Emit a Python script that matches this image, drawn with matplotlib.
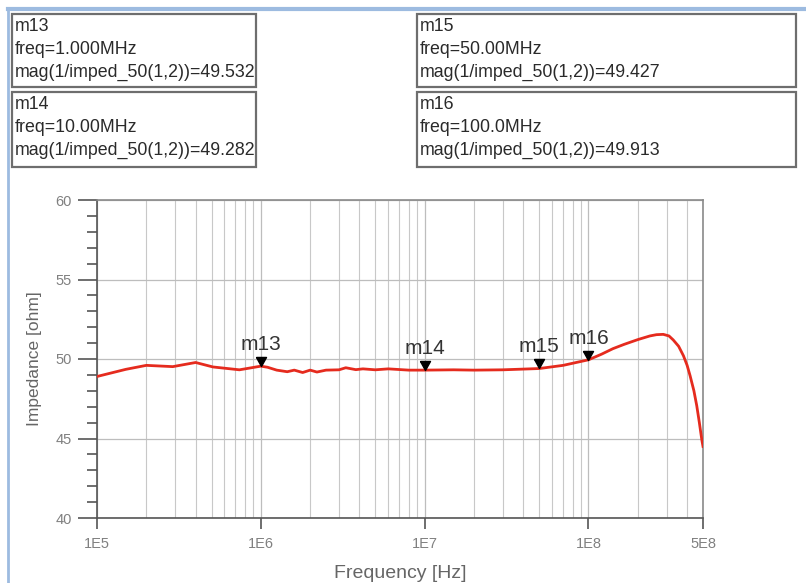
import numpy as np
import matplotlib.pyplot as plt
from matplotlib.patches import Rectangle
from matplotlib.lines import Line2D
from matplotlib.path import Path

plt.rcParams['font.family'] = ['Liberation Sans', 'DejaVu Sans']

# trace: frequency [Hz] and |Z| [ohm]
freq = [1e5, 1.5e5, 2e5, 2.9e5, 4e5, 5.1e5, 7.4e5, 1e6, 1.1e6, 1.25e6, 1.45e6,
        1.6e6, 1.8e6, 2e6, 2.2e6, 2.5e6, 3e6, 3.3e6, 3.8e6, 4.2e6, 5e6, 6e6,
        8e6, 1e7, 1.5e7, 2e7, 3e7, 5e7, 7e7, 1e8, 1.2e8, 1.41e8, 1.65e8, 2e8,
        2.37e8, 2.6e8, 2.86e8, 3.1e8, 3.29e8, 3.55e8, 3.8e8, 4e8, 4.17e8,
        4.4e8, 4.58e8, 4.75e8, 4.92e8, 5e8]
imped = [48.9, 49.35, 49.6, 49.52, 49.78, 49.5, 49.32, 49.55, 49.48, 49.3, 49.2,
         49.3, 49.15, 49.3, 49.18, 49.3, 49.32, 49.45, 49.33, 49.38, 49.32, 49.38,
         49.3, 49.3, 49.32, 49.3, 49.32, 49.4, 49.6, 49.95, 50.3, 50.65, 50.92, 51.22,
         51.45, 51.53, 51.55, 51.45, 51.2, 50.8, 50.2, 49.6, 48.95,
         48.0, 47.06, 46.0, 44.9, 44.5]

marker_names = ['m13', 'm14', 'm15', 'm16']
marker_freq = [1e6, 1e7, 5e7, 1e8]
marker_val = [49.532, 49.282, 49.427, 49.913]
marker_freq_txt = ['1.000MHz', '10.00MHz', '50.00MHz', '100.0MHz']

xtick_vals = [1e5, 1e6, 1e7, 1e8, 5e8]
xtick_labels = ['1E5', '1E6', '1E7', '1E8', '5E8']
ytick_vals = [40, 45, 50, 55, 60]

W, H = 806, 583
fig = plt.figure(figsize=(W / 100, H / 100), dpi=100)

def fx(px):
    return px / W

def fy(py):
    return 1 - py / H

# window frame (light blue top and left edges)
fig.add_artist(Line2D([fx(8), 1], [fy(9), fy(9)], color='#9dbbe0', lw=3))
fig.add_artist(Line2D([fx(8), fx(8)], [0, fy(9)], color='#9dbbe0', lw=2))

# marker readout boxes
boxes = [(12, 14, 256, 87), (417, 14, 796, 87), (12, 92, 256, 167), (417, 92, 796, 167)]
box_order = [0, 2, 1, 3]
for k, bi in enumerate(box_order):
    x0, y0, x1, y1 = boxes[bi]
    fig.add_artist(Rectangle((fx(x0), fy(y1)), fx(x1 - x0), (y1 - y0) / H,
                             fill=False, edgecolor='#6e6e6e', lw=1.6))
    lines = [marker_names[k],
             'freq=' + marker_freq_txt[k],
             'mag(1/imped_50(1,2))=%.3f' % marker_val[k]]
    for j, s in enumerate(lines):
        fig.text(fx(x0 + 3), fy(y0 + 17 + j * 23), s, fontsize=12.8,
                 color='#2a2a2a', ha='left', va='baseline')

ax = fig.add_axes([fx(97), fy(518), fx(703 - 97), (518 - 200) / H])
ax.semilogx(freq, imped, color='#e52b1e', lw=2.0, zorder=3)

ax.set_xlim(1e5, 5e8)
ax.set_ylim(40, 60)
ax.set_xticks(xtick_vals)
ax.set_xticklabels(xtick_labels)
ax.set_yticks(ytick_vals)
ax.set_yticks(np.arange(40, 61, 1), minor=True)
ax.tick_params(axis='x', which='minor', length=0)
ax.tick_params(axis='x', which='major', length=8, width=1.2, color='#555555',
               labelsize=10.5, labelcolor='#808080', pad=6)
ax.tick_params(axis='y', which='major', length=14, width=1.2, color='#555555',
               labelsize=10.5, labelcolor='#808080', pad=4)
ax.tick_params(axis='y', which='minor', length=7, width=1.2, color='#555555')
ax.grid(True, which='major', color='#bdbdbd', lw=0.9)
ax.grid(True, which='minor', axis='x', color='#c8c8c8', lw=0.8)
for sp in ax.spines.values():
    sp.set_color('#8a8a8a')
    sp.set_linewidth(1.2)
ax.spines['bottom'].set_color('#555555')
ax.spines['left'].set_color('#555555')

ax.set_xlabel('Frequency [Hz]', fontsize=14, color='#666666', labelpad=10)
ax.set_ylabel('Impedance [ohm]', fontsize=12.5, color='#666666', labelpad=10)

# downward triangle with its tip on the data point
tri = Path([(-0.5, 0.9), (0.5, 0.9), (0.0, 0.0), (-0.5, 0.9)])
ax.plot(marker_freq, marker_val, linestyle='none', marker=tri, markersize=13,
        color='black', zorder=4)
for name, f, v in zip(marker_names, marker_freq, marker_val):
    ax.annotate(name, (f, v), xytext=(0, 9), textcoords='offset points',
                ha='center', va='bottom', fontsize=15, color='#333333')

fig.savefig('out.png', dpi=100)
